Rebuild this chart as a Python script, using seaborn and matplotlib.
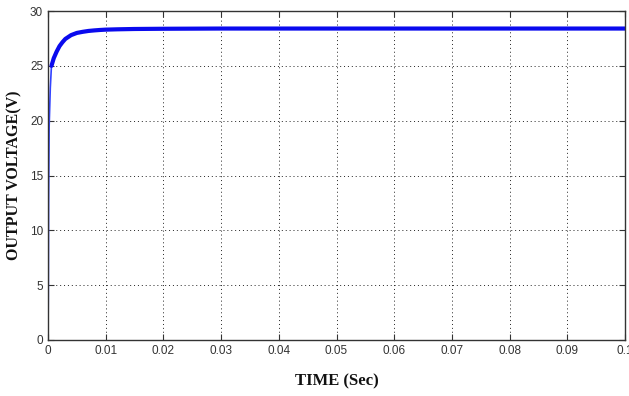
import numpy as np
import pandas as pd
import seaborn as sns
import matplotlib.pyplot as plt

# values
rise_time = [0.0, 0.00005, 0.0001, 0.0002, 0.0004, 0.0006]
rise_volt = [0.0, 4.0, 12.5, 19.5, 23.0, 25.0]

time = [0.0006, 0.001, 0.0015, 0.002, 0.0025, 0.003, 0.004, 0.005, 0.006,
        0.007, 0.008, 0.009, 0.01, 0.012, 0.015, 0.02, 0.025, 0.03, 0.04,
        0.05, 0.06, 0.07, 0.08, 0.09, 0.1]
volt = [25.0, 25.7, 26.3, 26.8, 27.15, 27.45, 27.8, 28.0, 28.1,
        28.18, 28.23, 28.27, 28.3, 28.33, 28.36, 28.38, 28.39, 28.4, 28.4,
        28.4, 28.4, 28.4, 28.4, 28.4, 28.4]

xticks = [0, 0.01, 0.02, 0.03, 0.04, 0.05, 0.06, 0.07, 0.08, 0.09, 0.1]
xtick_labels = ["0", "0.01", "0.02", "0.03", "0.04", "0.05", "0.06", "0.07", "0.08", "0.09", "0.1"]
yticks = [0, 5, 10, 15, 20, 25, 30]

sns.set_style("white")
plt.rcParams["font.family"] = ["Liberation Sans", "DejaVu Sans"]

fig = plt.figure(figsize=(6.29, 3.96), dpi=100)
ax = fig.add_axes([48 / 629, 1 - 340 / 396, 577 / 629, 329 / 396])

rise = pd.DataFrame({"t": rise_time, "v": rise_volt})
main = pd.DataFrame({"t": time, "v": volt})
sns.lineplot(data=rise, x="t", y="v", ax=ax, color="#3344ff", lw=1.2)
sns.lineplot(data=main, x="t", y="v", ax=ax, color="#0a0aee", lw=3.0)

ax.set_xlim(0, 0.1)
ax.set_ylim(0, 30)
ax.set_xticks(xticks)
ax.set_xticklabels(xtick_labels)
ax.set_yticks(yticks)
ax.grid(True, color="#222222", linestyle=(0, (1, 3)), linewidth=0.7)
ax.tick_params(direction="in", length=4, labelsize=8.5, colors="#333333",
               top=True, right=True, bottom=True, left=True)
for s in ax.spines.values():
    s.set_color("#333333")
    s.set_linewidth(1.0)

ax.set_xlabel("TIME (Sec)", family="Liberation Serif", fontweight="bold",
              fontsize=12, color="#111111")
ax.xaxis.set_label_coords(0.5, -0.103)
ax.set_ylabel("OUTPUT VOLTAGE(V)", family="Liberation Serif", fontweight="bold",
              fontsize=11.5, color="#111111")
ax.yaxis.set_label_coords(-0.045, 0.5)

fig.savefig("out.png", dpi=100)
